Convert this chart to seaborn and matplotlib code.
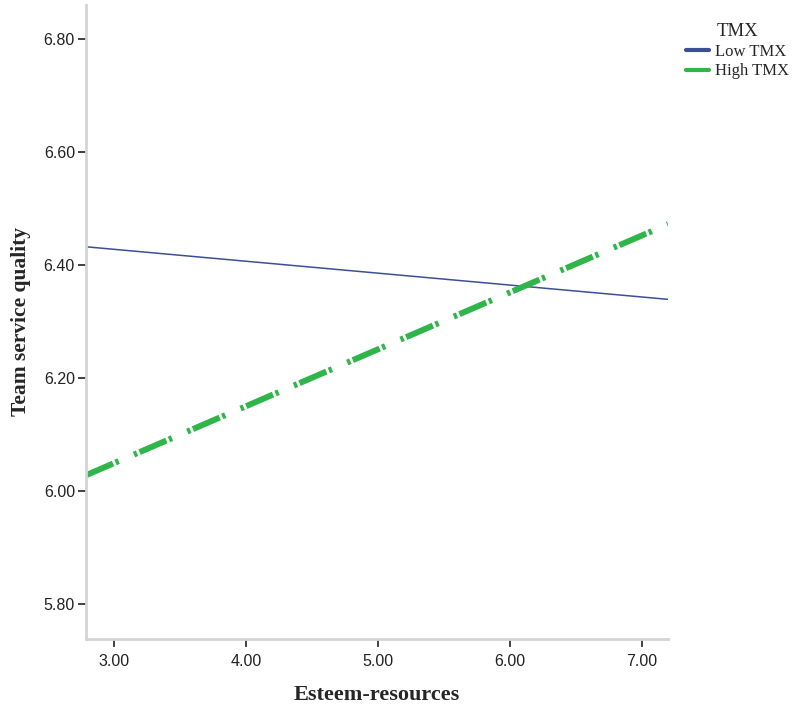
import matplotlib
matplotlib.use("Agg")
import matplotlib.pyplot as plt
import seaborn as sns
import pandas as pd

# Data (fitted simple-slope lines)
esteem = [2.79, 7.20]
low_tmx = [6.432, 6.339]
high_tmx = [6.028, 6.472]
groups = ["Low TMX", "High TMX"]
x_ticks = [3.0, 4.0, 5.0, 6.0, 7.0]
y_ticks = [5.8, 6.0, 6.2, 6.4, 6.6, 6.8]

df = pd.DataFrame({
    "Esteem-resources": esteem * 2,
    "Team service quality": low_tmx + high_tmx,
    "TMX": [groups[0]] * len(esteem) + [groups[1]] * len(esteem),
})

sns.set_theme(style="white")
plt.rcParams["lines.scale_dashes"] = False

fig = plt.figure(figsize=(8.01, 7.08), dpi=100)
ax = fig.add_axes([0.1074, 0.0975, 0.834 - 0.1074, 0.993 - 0.0975])

colors = {"Low TMX": "#3d4f94", "High TMX": "#2fb54a"}
sns.lineplot(data=df[df["TMX"] == "Low TMX"], x="Esteem-resources",
             y="Team service quality", color=colors["Low TMX"], linewidth=1.1,
             ax=ax, label="Low TMX")
sns.lineplot(data=df[df["TMX"] == "High TMX"], x="Esteem-resources",
             y="Team service quality", color=colors["High TMX"], linewidth=4.3,
             linestyle=(0, (21.0, 2.0, 2.4, 12.0, 2.4, 2.0)),
             dash_capstyle="butt", ax=ax, label="High TMX")

ax.set_xlim(2.788, 7.20)
ax.set_ylim(5.738, 6.86)
ax.set_xticks(x_ticks)
ax.set_yticks(y_ticks)
ax.set_xticklabels([f"{v:.2f}" for v in x_ticks], fontsize=11.5,
                   family="Liberation Sans", color="#222222")
ax.set_yticklabels([f"{v:.2f}" for v in y_ticks], fontsize=11.5,
                   family="Liberation Sans", color="#222222")
ax.tick_params(axis="both", which="major", direction="out", length=6,
               width=1.3, color="#333333", left=True, bottom=True, pad=2)
ax.tick_params(axis="x", pad=5)

for side in ["top", "right"]:
    ax.spines[side].set_visible(False)
for side in ["left", "bottom"]:
    ax.spines[side].set_color("#d4d4d4")
    ax.spines[side].set_linewidth(2)

ax.set_xlabel("Esteem-resources", fontsize=16, fontweight="bold",
              family="Liberation Serif", labelpad=11)
ax.set_ylabel("Team service quality", fontsize=15.5, fontweight="bold",
              family="Liberation Serif", labelpad=9)

handles, labels = ax.get_legend_handles_labels()
if ax.legend_:
    ax.legend_.remove()
leg = fig.legend(handles, labels, title="TMX", loc="upper left",
                 bbox_to_anchor=(0.852, 0.972), frameon=False,
                 prop={"family": "Liberation Serif", "size": 12},
                 handlelength=1.4, handletextpad=0.35, labelspacing=0.22,
                 borderpad=0.2, borderaxespad=0)
leg.get_title().set_family("Liberation Serif")
leg.get_title().set_fontsize(13.5)
for h in leg.legend_handles:
    h.set_linewidth(3)
    h.set_linestyle("-")

fig.savefig("out.png", dpi=100, facecolor="white")
